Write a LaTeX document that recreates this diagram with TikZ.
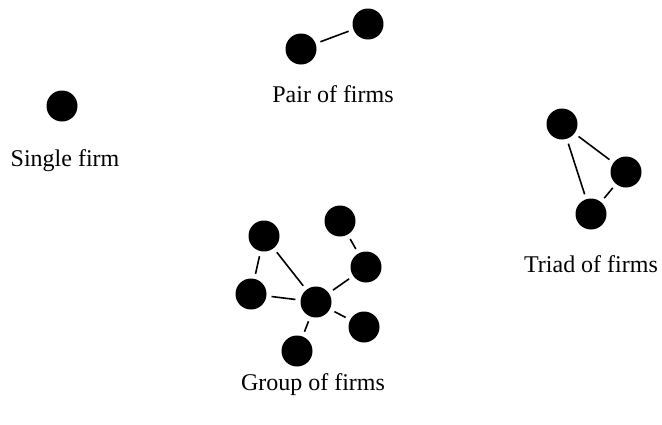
\documentclass[tikz,border=0pt]{standalone}
\usepackage{fontspec}
\setmainfont{Liberation Serif}
\begin{document}
\begin{tikzpicture}[x=1pt,y=-1pt,
  firm/.style={circle,fill=black,inner sep=0pt,minimum size=31pt},
  tie/.style={line width=1.6pt,shorten <=5pt,shorten >=5pt},
  caption/.style={anchor=base,inner sep=0pt,font=\fontsize{24}{24}\selectfont}]
\useasboundingbox (0,0) rectangle (662,424);

% single firm
\node[firm] (s1) at (62,106) {};
\node[caption] (ls) at (65,166) {Single firm};

% pair of firms
\node[firm] (p1) at (301,49) {};
\node[firm] (p2) at (368,24) {};
\draw[tie] (p1) -- (p2);
\node[caption] (lp) at (333,102) {Pair of firms};

% triad of firms
\node[firm] (t1) at (562,124) {};
\node[firm] (t2) at (626,172) {};
\node[firm] (t3) at (591,214) {};
\draw[tie] (t1) -- (t2);
\draw[tie] (t1) -- (t3);
\draw[tie] (t2) -- (t3);
\node[caption] (lt) at (591,272) {Triad of firms};

% group of firms
\node[firm] (g1) at (264,236) {};
\node[firm] (g2) at (340,221) {};
\node[firm] (g3) at (366,267) {};
\node[firm] (g4) at (251,294) {};
\node[firm] (g5) at (316,302) {};
\node[firm] (g6) at (364,327) {};
\node[firm] (g7) at (297,351) {};
\draw[tie] (g1) -- (g4);
\draw[tie] (g1) -- (g5);
\draw[tie] (g4) -- (g5);
\draw[tie] (g2) -- (g3);
\draw[tie] (g3) -- (g5);
\draw[tie] (g5) -- (g6);
\draw[tie] (g5) -- (g7);
\node[caption] (lg) at (313,390) {Group of firms};
\end{tikzpicture}
\end{document}
